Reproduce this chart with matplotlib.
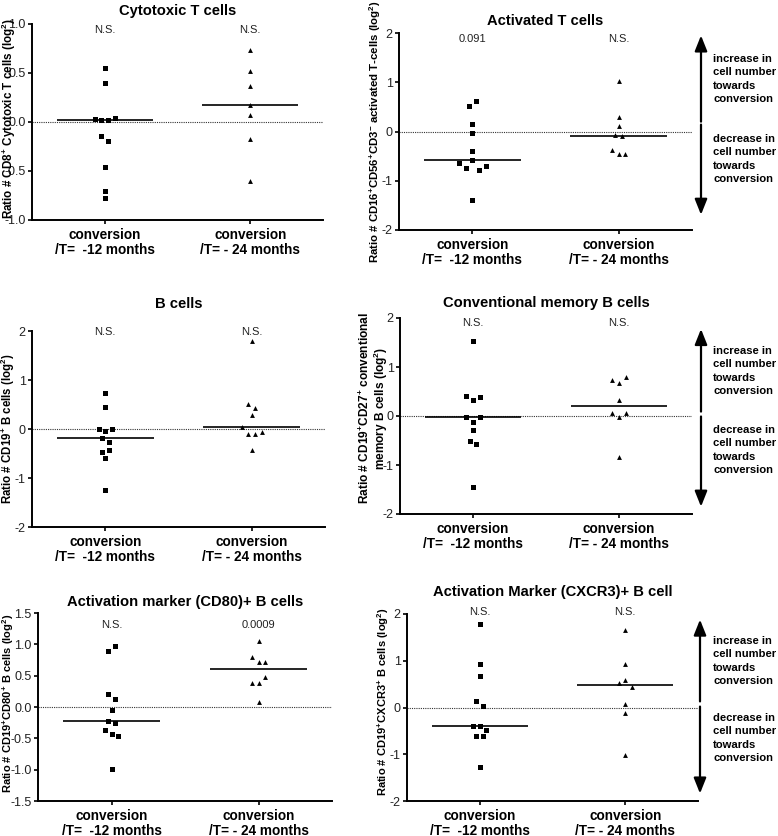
import numpy as np
import matplotlib
matplotlib.use("Agg")
import matplotlib.pyplot as plt
from matplotlib.transforms import offset_copy, blended_transform_factory

plt.rcParams['font.family'] = ['Liberation Sans', 'DejaVu Sans']
plt.rcParams['axes.unicode_minus'] = False
plt.rcParams['mathtext.fontset'] = 'custom'
plt.rcParams['mathtext.rm'] = 'Liberation Sans:bold'
plt.rcParams['mathtext.bf'] = 'Liberation Sans:bold'
plt.rcParams['mathtext.it'] = 'Liberation Sans:bold:italic'
plt.rcParams['mathtext.default'] = 'rm'

# ---------------- data ----------------
categories = ["conversion\n/T=  -12 months", "conversion\n/T= - 24 months"]

cd8_m12 = [0.55, 0.40, 0.035, 0.02, 0.02, 0.044, -0.14, -0.19, -0.46, -0.70, -0.78]
cd8_m24 = [0.73, 0.52, 0.37, 0.17, 0.07, -0.17, -0.60]
cd8_stats = ["N.S.", "N.S."]

actT_m12 = [0.52, 0.61, 0.16, -0.04, -0.39, -0.64, -0.75, -0.58, -0.79, -0.70, -1.39]
actT_m24 = [1.03, 0.29, 0.12, -0.07, -0.10, -0.37, -0.45, -0.45]
actT_stats = ["0.091", "N.S."]

bcell_m12 = [0.74, 0.45, 0.0, -0.05, -0.01, -0.18, -0.26, -0.47, -0.43, -0.60, -1.25]
bcell_m24 = [1.80, 0.51, 0.42, 0.29, 0.04, -0.095, -0.095, -0.06, -0.43]
bcell_stats = ["N.S.", "N.S."]

memB_m12 = [1.54, 0.41, 0.33, 0.38, -0.03, -0.13, -0.03, -0.28, -0.51, -0.58, -1.44]
memB_m24 = [0.73, 0.68, 0.79, 0.33, 0.06, -0.03, 0.06, -0.84]
memB_stats = ["N.S.", "N.S."]

cd80_m12 = [0.90, 0.98, 0.20, 0.12, -0.045, -0.23, -0.26, -0.365, -0.43, -0.47, -0.995]
cd80_m24 = [1.06, 0.80, 0.72, 0.72, 0.39, 0.39, 0.48, 0.08]
cd80_stats = ["N.S.", "0.0009"]

cxcr3_m12 = [1.79, 0.93, 0.67, 0.14, 0.04, -0.39, -0.39, -0.48, -0.61, -0.62, -1.28]
cxcr3_m24 = [1.66, 0.94, 0.52, 0.58, 0.43, 0.08, -0.11, -1.02]
cxcr3_stats = ["N.S.", "N.S."]

increase_text = "increase in\ncell number\ntowards\nconversion"
decrease_text = "decrease in\ncell number\ntowards\nconversion"

# ---------------- layout ----------------
W, H = 778, 836
fig = plt.figure(figsize=(W / 100, H / 100), dpi=100)

panels = [
    dict(title="Cytotoxic T cells",
         ylabel=r"Ratio # CD8$^{+}$ Cytotoxic T cells (log$^{2}$)",
         data=(cd8_m12, cd8_m24), stats=cd8_stats,
         box=(32, 323, 24, 220), ylim=(-1, 1), yticks=[-1, -0.5, 0, 0.5, 1], yfmt="%.1f",
         title_dy=13, stat_dy=6, ylab=(23, 0.52, 8.4), arrows=None),
    dict(title="Activated T cells",
         ylabel=r"Ratio # CD16$^{+}$CD56$^{+}$CD3$^{-}$ activated T-cells (log$^{2}$)",
         data=(actT_m12, actT_m24), stats=actT_stats,
         box=(399, 692, 33, 230), ylim=(-2, 2), yticks=[-2, -1, 0, 1, 2], yfmt="%d",
         title_dy=12, stat_dy=6, ylab=(24, 0.5, 8.2),
         arrows=dict(x=701, up=(0.2, 1.95), down=(0.14, -1.69), inc_y=79, dec_y=159)),
    dict(title="B cells",
         ylabel=r"Ratio # CD19$^{+}$ B cells (log$^{2}$)",
         data=(bcell_m12, bcell_m24), stats=bcell_stats,
         box=(32, 325, 331, 527), ylim=(-2, 2), yticks=[-2, -1, 0, 1, 2], yfmt="%d",
         title_dy=27, stat_dy=1, ylab=(24, 0.5, 8.3), arrows=None),
    dict(title="Conventional memory B cells",
         ylabel="Ratio # CD19$^{+}$CD27$^{+}$ conventional\nmemory B cells (log$^{2}$)",
         data=(memB_m12, memB_m24), stats=memB_stats,
         box=(400, 692, 318, 514), ylim=(-2, 2), yticks=[-2, -1, 0, 1, 2], yfmt="%d",
         title_dy=15, stat_dy=5, ylab=(26, 0.54, 8.6),
         arrows=dict(x=701, up=(0.09, 1.775), down=(-0.01, -1.85), inc_y=371, dec_y=450)),
    dict(title="Activation marker (CD80)+ B cells",
         ylabel=r"Ratio # CD19$^{+}$CD80$^{+}$ B cells (log$^{2}$)",
         data=(cd80_m12, cd80_m24), stats=cd80_stats,
         box=(38, 332, 613, 801), ylim=(-1.5, 1.5), yticks=[-1.5, -1, -0.5, 0, 0.5, 1, 1.5], yfmt="%.1f",
         title_dy=11, stat_dy=12, ylab=(30, 0.52, 8.0), arrows=None),
    dict(title="Activation Marker (CXCR3)+ B cell",
         ylabel=r"Ratio # CD19$^{+}$CXCR3$^{+}$ B cells (log$^{2}$)",
         data=(cxcr3_m12, cxcr3_m24), stats=cxcr3_stats,
         box=(407, 698, 614, 801), ylim=(-2, 2), yticks=[-2, -1, 0, 1, 2], yfmt="%d",
         title_dy=22, stat_dy=-2, ylab=(24, 0.53, 8.0),
         arrows=dict(x=700, up=(0.13, 1.88), down=(0.02, -1.84), inc_y=661, dec_y=738)),
]

markers = ["s", "^"]
marker_sizes = [3.6, 3.5]
STEP_PX = 6.67
THRESH_PX = 6.0
XLIM = (-0.5, 1.5)


def swarm_slots(values, px_per_unit):
    v = np.asarray(values, float)
    order = np.argsort(-v, kind="stable")
    clusters, cur = [], [order[0]]
    for a, b in zip(order[:-1], order[1:]):
        if (v[a] - v[b]) * px_per_unit < THRESH_PX:
            cur.append(b)
        else:
            clusters.append(cur)
            cur = [b]
    clusters.append(cur)
    slots = np.zeros(len(v))
    for c in clusters:
        c = sorted(c)
        n = len(c)
        for i, idx in enumerate(c):
            slots[idx] = i - (n - 1) / 2
    return slots


for p in panels:
    l, r, t, b = p["box"]
    wpx, hpx = r - l, b - t
    ax = fig.add_axes([l / W, 1 - b / H, wpx / W, hpx / H])
    ax.set_xlim(*XLIM)
    ax.set_ylim(*p["ylim"])
    ypx = hpx / (p["ylim"][1] - p["ylim"][0])
    xpx = wpx / (XLIM[1] - XLIM[0])

    for spine in ("top", "right"):
        ax.spines[spine].set_visible(False)
    for spine in ("left", "bottom"):
        ax.spines[spine].set_linewidth(1.4)

    ax.axhline(0, color="#333333", lw=0.8, ls=(0, (1, 1)), zorder=1)

    for i, vals in enumerate(p["data"]):
        slots = swarm_slots(vals, ypx)
        xs = i + slots * STEP_PX / xpx
        ax.scatter(xs, vals, marker=markers[i], s=marker_sizes[i] ** 2,
                   color="black", linewidths=0, zorder=3, clip_on=False)
        med = np.median(vals)
        ax.hlines(med, i - 0.33, i + 0.33, color="black", lw=1.2, zorder=2)

    ax.set_yticks(p["yticks"])
    ax.set_yticklabels([p["yfmt"] % v for v in p["yticks"]])
    ax.tick_params(axis="y", direction="out", length=3, width=1.2,
                   labelsize=9, pad=1.5, labelcolor="#222222")
    ax.set_xticks([0, 1])
    ax.set_xticklabels(categories, fontweight="bold", fontsize=9.8, linespacing=1.02)
    ax.tick_params(axis="x", direction="out", length=3, width=1.2, pad=3)

    ax.text(0.5, 1.0, p["title"], ha="center", va="center", fontweight="bold",
            fontsize=10.6,
            transform=offset_copy(ax.transAxes, fig=fig, x=0, y=p["title_dy"], units="dots"))

    stat_tr = offset_copy(blended_transform_factory(ax.transData, ax.transAxes),
                          fig=fig, x=0, y=-p["stat_dy"], units="dots")
    for i, s in enumerate(p["stats"]):
        ax.text(i, 1.0, s, ha="center", va="center", fontsize=8,
                color="#222222", transform=stat_tr)

    dx, yy, fs = p["ylab"]
    ax.set_ylabel(p["ylabel"], fontsize=fs, fontweight="bold", va="center",
                  linespacing=1.0)
    ax.yaxis.set_label_coords(-dx / wpx, yy)

    a = p["arrows"]
    if a:
        xa = (a["x"] - l) / wpx
        tr = blended_transform_factory(ax.transAxes, ax.transData)
        for y0, y1 in (a["up"], a["down"]):
            ax.annotate("", xy=(xa, y1), xytext=(xa, y0), xycoords=tr, textcoords=tr,
                        annotation_clip=False,
                        arrowprops=dict(arrowstyle="-|>,head_length=0.55,head_width=0.22",
                                        mutation_scale=17, lw=1.6, color="black",
                                        shrinkA=0, shrinkB=0))
        fig.text(713 / W, 1 - a["inc_y"] / H, increase_text, ha="left", va="center",
                 fontsize=8.1, fontweight="bold", linespacing=1.4)
        fig.text(713 / W, 1 - a["dec_y"] / H, decrease_text, ha="left", va="center",
                 fontsize=8.1, fontweight="bold", linespacing=1.4)

fig.savefig("out.png", dpi=100, facecolor="white")
